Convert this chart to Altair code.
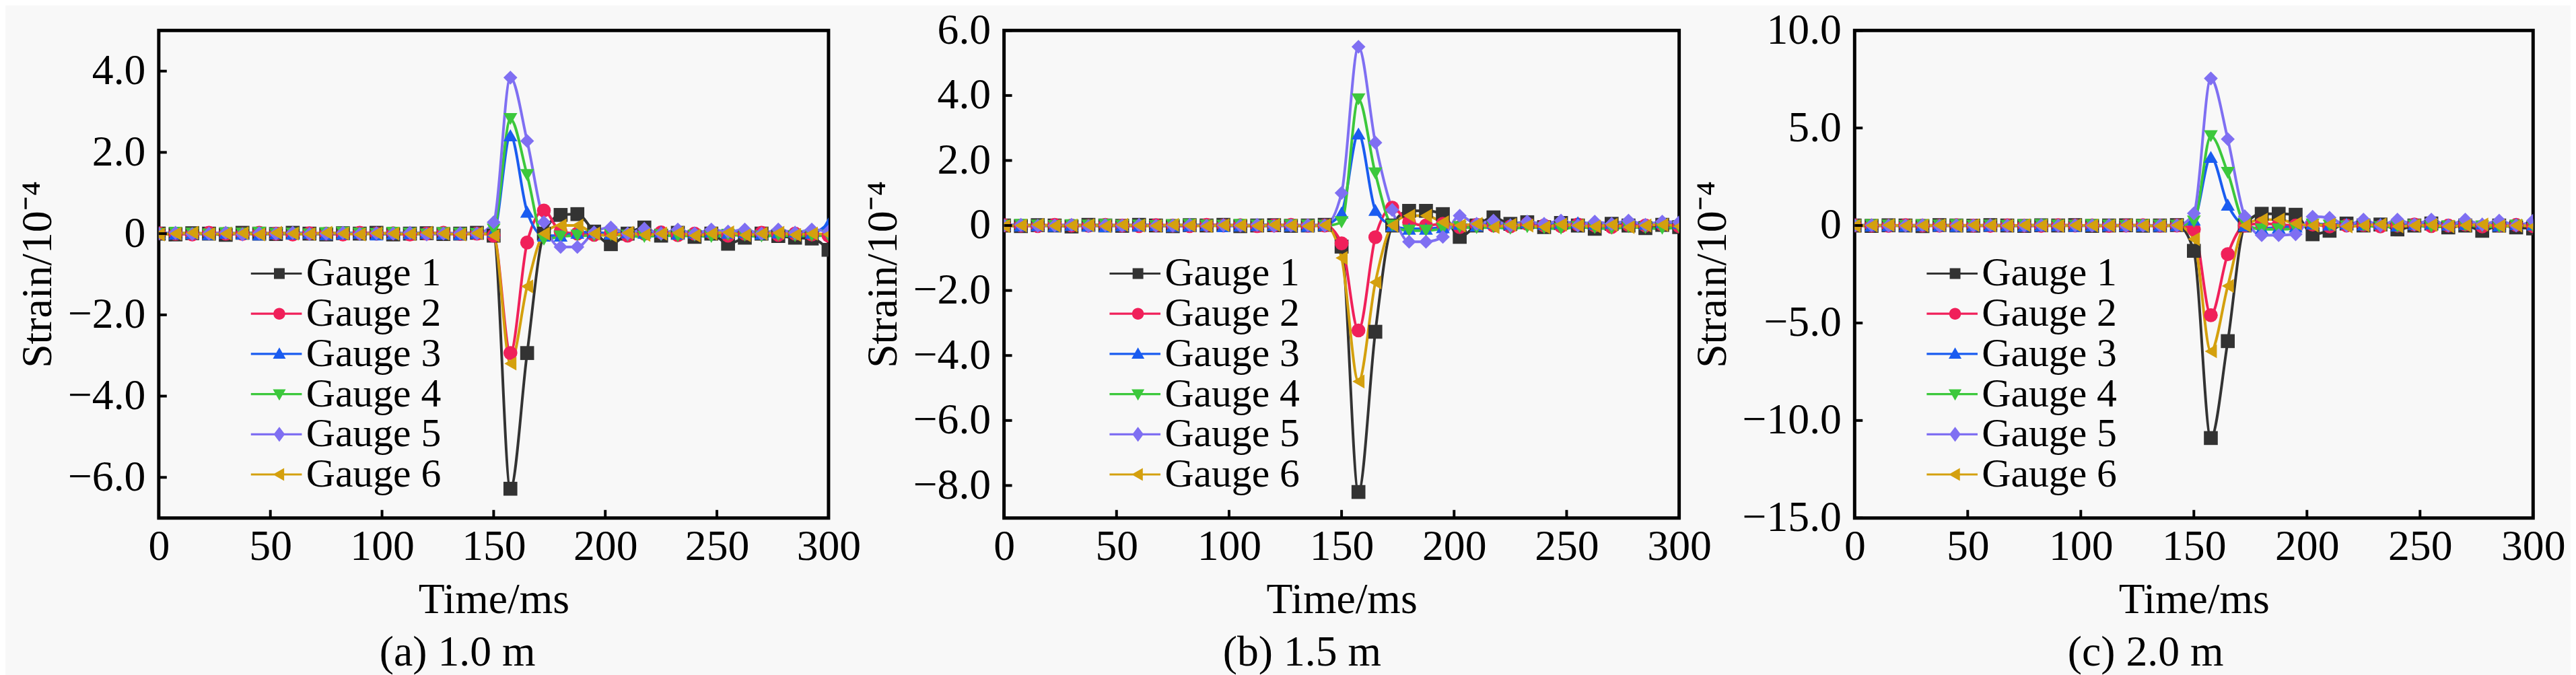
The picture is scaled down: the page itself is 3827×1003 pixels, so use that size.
import altair as alt
import pandas as pd

# time axis of the records (ms)
time_ms = [0, 7.5, 15, 22.5, 30, 37.5, 45, 52.5, 60, 67.5, 75, 82.5, 90, 97.5,
           105, 112.5, 120, 127.5, 135, 142.5, 150, 157.5, 165, 172.5, 180,
           187.5, 195, 202.5, 210, 217.5, 225, 232.5, 240, 247.5, 255, 262.5,
           270, 277.5, 285, 292.5, 300]

gauges = ["Gauge 1", "Gauge 2", "Gauge 3", "Gauge 4", "Gauge 5", "Gauge 6"]
colors = ["#333333", "#f0205a", "#1a5cf0", "#3cc83c", "#7f6ff2", "#d4a00e"]
shapes = ["square", "circle", "triangle-up", "triangle-down", "diamond", "triangle-left"]

# quiet part before the blast (0 - 142.5 ms)
base_g1 = [0.0, -0.02, 0.01, 0.0, -0.03, 0.02, 0.0, -0.01, 0.02, 0.0, -0.02, 0.01, 0.0, 0.02, -0.02, 0.0, 0.01, -0.01, 0.0, 0.02]
base_g2 = [0.01, 0.0, -0.02, 0.02, 0.0, -0.01, 0.02, 0.0, -0.02, 0.01, 0.0, -0.02, 0.02, 0.0, 0.01, -0.02, 0.0, 0.02, -0.01, 0.0]
base_g3 = [0.02, 0.0, 0.01, -0.01, 0.02, 0.0, -0.02, 0.01, 0.0, 0.02, -0.01, 0.0, 0.02, -0.02, 0.0, 0.01, 0.02, 0.0, -0.01, 0.02]
base_g4 = [-0.01, 0.02, 0.0, -0.02, 0.01, 0.0, 0.02, -0.01, 0.0, -0.02, 0.01, 0.02, 0.0, -0.01, 0.02, 0.0, -0.02, 0.01, 0.0, -0.01]
base_g5 = [0.0, 0.02, -0.01, 0.0, 0.02, -0.02, 0.01, 0.0, 0.02, -0.01, 0.0, 0.02, -0.01, 0.01, 0.0, 0.02, -0.02, 0.0, 0.01, 0.0]
base_g6 = [-0.02, 0.0, 0.02, -0.01, 0.0, 0.01, -0.02, 0.02, 0.0, -0.01, 0.02, 0.0, -0.02, 0.01, 0.0, -0.01, 0.02, 0.0, -0.02, 0.01]

# (a) 1.0 m, 150 - 300 ms
a_g1 = [-0.05, -6.28, -2.94, 0.0, 0.46, 0.48, 0.05, -0.26, 0.0, 0.15, -0.05, 0.02, -0.08, 0.0, -0.25, -0.1, 0.0, -0.06, -0.1, -0.12, -0.4]
a_g2 = [-0.05, -2.94, -0.22, 0.57, 0.05, 0.0, -0.03, 0.02, -0.05, 0.0, 0.03, -0.04, 0.0, 0.02, -0.05, 0.0, 0.02, -0.03, 0.0, -0.02, -0.05]
a_g3 = [0.05, 2.42, 0.54, -0.05, -0.05, 0.02, 0.04, 0.0, 0.03, 0.02, 0.05, 0.0, 0.03, 0.05, 0.02, 0.04, 0.0, 0.03, 0.05, 0.02, 0.25]
a_g4 = [0.1, 2.82, 1.44, -0.15, -0.07, -0.05, -0.05, -0.03, -0.05, -0.08, -0.04, -0.06, -0.05, -0.08, -0.03, -0.05, -0.07, -0.04, -0.06, -0.05, -0.05]
a_g5 = [0.28, 3.84, 2.28, 0.28, -0.33, -0.33, 0.03, 0.15, 0.0, 0.12, 0.0, 0.1, 0.0, 0.1, 0.05, 0.1, 0.0, 0.1, 0.02, 0.1, 0.05]
a_g6 = [-0.05, -3.2, -1.3, 0.0, 0.2, 0.2, 0.0, -0.05, 0.02, -0.03, 0.0, 0.02, -0.05, 0.0, 0.03, -0.04, 0.0, 0.02, -0.03, 0.0, -0.02]

# (b) 1.5 m
b_g1 = [-0.65, -8.2, -3.27, 0.0, 0.45, 0.45, 0.35, -0.35, 0.0, 0.25, 0.05, 0.1, -0.05, 0.08, 0.0, -0.1, 0.05, 0.0, -0.08, 0.02, -0.05]
b_g2 = [-0.55, -3.23, -0.36, 0.55, 0.1, 0.0, 0.05, -0.05, 0.02, 0.0, -0.03, 0.05, 0.0, -0.02, 0.03, 0.0, -0.05, 0.02, 0.0, 0.03, -0.02]
b_g3 = [0.4, 2.83, 0.48, 0.0, -0.1, -0.1, -0.05, 0.05, 0.0, 0.08, 0.05, 0.1, 0.05, 0.08, 0.1, 0.05, 0.08, 0.1, 0.05, 0.1, 0.08]
b_g4 = [0.1, 3.88, 1.6, 0.0, -0.16, -0.16, -0.1, -0.05, -0.08, -0.05, -0.1, -0.05, -0.08, -0.1, -0.05, -0.08, -0.1, -0.05, -0.08, -0.1, -0.05]
b_g5 = [1.0, 5.5, 2.55, 0.48, -0.5, -0.5, -0.35, 0.3, 0.05, 0.15, 0.0, 0.12, 0.05, 0.15, 0.0, 0.12, 0.05, 0.15, 0.02, 0.12, 0.1]
b_g6 = [-1.0, -4.8, -1.75, 0.0, 0.3, 0.3, 0.1, 0.0, 0.05, -0.05, 0.02, 0.0, -0.05, 0.03, 0.0, -0.03, 0.02, -0.05, 0.0, 0.02, -0.03]

# (c) 2.0 m
c_g1 = [-1.3, -10.9, -5.93, 0.0, 0.6, 0.6, 0.55, -0.45, -0.27, 0.1, 0.0, 0.05, -0.2, 0.0, 0.1, -0.1, 0.0, -0.27, 0.0, -0.1, -0.15]
c_g2 = [-0.2, -4.6, -1.47, 0.0, 0.1, 0.05, 0.0, 0.05, -0.05, 0.0, 0.03, -0.05, 0.0, 0.05, -0.03, 0.0, 0.05, -0.05, 0.0, 0.03, -0.03]
c_g3 = [0.3, 3.52, 1.07, 0.0, -0.15, -0.1, -0.05, 0.1, 0.05, 0.1, 0.05, 0.1, 0.0, 0.08, 0.1, 0.05, 0.08, 0.1, 0.0, 0.08, 0.05]
c_g4 = [0.2, 4.58, 2.7, 0.1, -0.2, -0.2, -0.15, 0.05, 0.0, -0.05, 0.0, -0.08, -0.05, 0.0, -0.08, -0.05, 0.0, -0.05, -0.08, 0.0, -0.05]
c_g5 = [0.62, 7.54, 4.43, 0.47, -0.5, -0.5, -0.45, 0.45, 0.4, 0.0, 0.3, 0.0, 0.3, 0.05, 0.3, 0.0, 0.3, 0.05, 0.25, 0.0, 0.25]
c_g6 = [-0.7, -6.45, -3.1, 0.0, 0.3, 0.3, 0.1, 0.0, 0.05, -0.05, 0.0, 0.05, -0.05, 0.0, 0.03, -0.05, 0.0, 0.05, -0.03, 0.0, -0.05]

x_ticks = [0, 50, 100, 150, 200, 250, 300]
a_ticks = [-6, -4, -2, 0, 2, 4]
b_ticks = [-8, -6, -4, -2, 0, 2, 4, 6]
c_ticks = [-15, -10, -5, 0, 5, 10]

FONT = "Liberation Serif"
FS = 64
LEG_FS = 60

# legend keys: a short bar (the line) with the marker on it, all filled
key_paths = [
    "M-5.3,-0.2H4.2V0.2H-5.3ZM-1,-1H1V1H-1Z",
    "M-5.3,-0.2H4.2V0.2H-5.3ZM1.1,0A1.1,1.1,0,1,1,-1.1,0A1.1,1.1,0,1,1,1.1,0Z",
    "M-5.3,-0.2H4.2V0.2H-5.3ZM0,-1.2L1.2,0.9H-1.2Z",
    "M-5.3,-0.2H4.2V0.2H-5.3ZM0,1.2L-1.2,-0.9H1.2Z",
    "M-5.3,-0.2H4.2V0.2H-5.3ZM0,-1.4L1.05,0L0,1.4L-1.05,0Z",
    "M-5.3,-0.2H4.2V0.2H-5.3ZM-1.2,0L0.9,-1.2V1.2Z",
]


def frame(series):
    rows = []
    for g, vals in zip(gauges, series):
        for t, v in zip(time_ms, vals):
            rows.append({"gauge": g, "time": t, "strain": v})
    return pd.DataFrame(rows)


def panel(series, ydom, yticks, caption, width, leg_x, dx):
    df = frame(series)
    height = 728
    xs = alt.Scale(domain=[0, 300], nice=False, zero=False)
    ys = alt.Scale(domain=ydom, nice=False, zero=False)
    x = alt.X("time:Q", scale=xs, axis=alt.Axis(
        values=x_ticks, title="Time/ms", ticks=False, tickSize=0, domain=False,
        labelPadding=11, titlePadding=16, grid=False, labelOverlap=False,
        labelFlush=False))
    y = alt.Y("strain:Q", scale=ys, axis=alt.Axis(
        values=yticks, title="Strain/10⁻⁴", ticks=False, tickSize=0, domain=False,
        labelPadding=20, titlePadding=12, grid=False, labelOverlap=False,
        labelFlush=False,
        labelExpr="datum.value == 0 ? '0' : format(datum.value, '.1f')"))
    cscale = alt.Scale(domain=gauges, range=colors)
    base = alt.Chart(df)

    # legend layer first (it wins the legend merge); the filter leaves no rows,
    # the entries come from the explicit scale domain
    leg = alt.Legend(orient="none", legendX=leg_x, legendY=333, title=None,
                     labelFont=FONT, labelFontSize=LEG_FS, labelColor="black",
                     labelLimit=0, symbolSize=256, symbolStrokeWidth=0,
                     symbolOpacity=1, labelOffset=10, symbolOffset=15,
                     rowPadding=0)
    key = base.transform_filter(alt.datum.time < -1).mark_point(filled=True).encode(
        x=x, y=y,
        color=alt.Color("gauge:N", scale=cscale, legend=leg),
        shape=alt.Shape("gauge:N", scale=alt.Scale(domain=gauges, range=key_paths), legend=leg),
    )
    layers = [key]

    lines = base.mark_line(interpolate="monotone", strokeWidth=4, clip=True).encode(
        x=x, y=y, color=alt.Color("gauge:N", scale=cscale, legend=None),
        detail="gauge:N")
    layers.append(lines)
    for g, s in zip(gauges, shapes):
        layers.append(
            base.transform_filter(alt.datum.gauge == g)
            .mark_point(shape=s, filled=True, size=430, opacity=1, clip=True)
            .encode(x=x, y=y, color=alt.Color("gauge:N", scale=cscale, legend=None))
        )

    # inward ticks
    xt = alt.Chart(pd.DataFrame({"time": x_ticks})).mark_rule(color="black", strokeWidth=4).encode(
        x=alt.X("time:Q", scale=xs), y=alt.value(height), y2=alt.value(height - 12))
    yt = alt.Chart(pd.DataFrame({"strain": yticks})).mark_rule(color="black", strokeWidth=4).encode(
        y=alt.Y("strain:Q", scale=ys), x=alt.value(0), x2=alt.value(12))
    layers += [xt, yt]

    return alt.layer(*layers).properties(
        width=width, height=height,
        title=alt.TitleParams(caption, orient="bottom", anchor="middle", dx=dx,
                              offset=14, font=FONT, fontSize=FS,
                              fontWeight="normal", color="black"),
    )


pa = panel([base_g1 + a_g1, base_g2 + a_g2, base_g3 + a_g3, base_g4 + a_g4, base_g5 + a_g5, base_g6 + a_g6],
           [-7, 5], a_ticks, "(a) 1.0 m", 1000, 135, -54)
pb = panel([base_g1 + b_g1, base_g2 + b_g2, base_g3 + b_g3, base_g4 + b_g4, base_g5 + b_g5, base_g6 + b_g6],
           [-9, 6], b_ticks, "(b) 1.5 m", 1008, 155, -59)
pc = panel([base_g1 + c_g1, base_g2 + c_g2, base_g3 + c_g3, base_g4 + c_g4, base_g5 + c_g5, base_g6 + c_g6],
           [-15, 10], c_ticks, "(c) 2.0 m", 1013, 105, -72)

chart = alt.hconcat(pa, pb, pc, spacing=262, bounds="flush").resolve_scale(
    color="independent", shape="independent"
).resolve_legend(
    color="independent", shape="independent"
).properties(
    background="#f8f8f8",
    padding={"top": 0, "left": 14, "right": 5, "bottom": 0},
).configure_view(
    stroke="black", strokeWidth=5
).configure_axis(
    labelFont=FONT, labelFontSize=FS, labelColor="black",
    titleFont=FONT, titleFontSize=FS, titleFontWeight="normal", titleColor="black",
)

chart.save("out.html", embed_options={"renderer": "svg", "actions": False})
